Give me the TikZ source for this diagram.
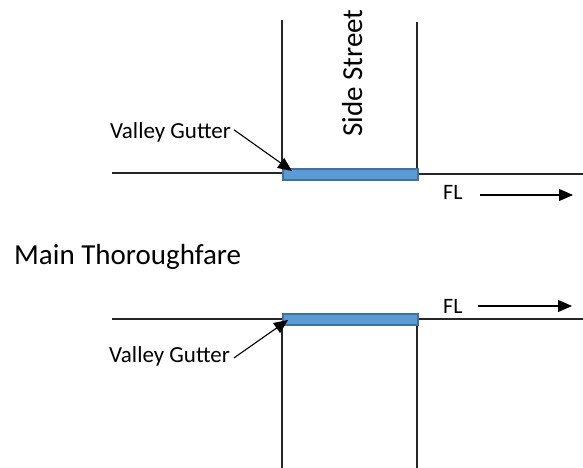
\documentclass[tikz,border=0pt]{standalone}
\usepackage{fontspec}
\setmainfont{Carlito}
\usetikzlibrary{arrows.meta}
\definecolor{gutterfill}{HTML}{5B9BD5}
\definecolor{gutteredge}{HTML}{41719C}
\tikzset{
  curb/.style={line width=1.2pt, draw=black!85},
  gutter/.style={fill=gutterfill, draw=gutteredge, line width=1.6pt},
  pointer/.style={line width=1.1pt, -{Triangle[length=14pt,width=12pt]}},
  label/.style={inner sep=0pt, anchor=base west},
}
\begin{document}
\begin{tikzpicture}[x=1pt, y=-1pt]
\useasboundingbox (0,0) rectangle (583,468);

% ---- side street meeting the through road (top) ----
\coordinate (tl0) at (112,173);
\coordinate (tl1) at (282,173);
\coordinate (tr0) at (417,174);
\coordinate (tr1) at (583,174);
\coordinate (tv0) at (282,20);
\coordinate (tv1) at (282,168);
\coordinate (tw0) at (417,22);
\draw[curb] (tl0) -- (tl1);
\draw[curb] (tv0) -- (tv1);
\draw[curb] (tw0) -- (tr0) -- (tr1);
\node[gutter, minimum width=135pt, minimum height=11pt, inner sep=0pt, anchor=north west] (tg) at (282,168) {};
\node[label, rotate=90, font=\fontsize{29}{29}\selectfont] (side) at (362,137) {Side Street};
\node[label, font=\fontsize{23}{23}\selectfont] (tvg) at (110,138) {Valley Gutter};
\coordinate (ttip) at (292,171);
\draw[pointer] (tvg.east) ++(3,-2) -- (ttip);
\node[label, font=\fontsize{22}{22}\selectfont] (tfl) at (443,199) {FL};
\coordinate (tflend) at (573,195);
\draw[pointer] (480,195) -- (tflend);

% ---- main road label ----
\node[label, font=\fontsize{29}{29}\selectfont] (main) at (14,264) {Main Thoroughfare};

% ---- through road meeting the side street (bottom) ----
\coordinate (bl0) at (112,319);
\coordinate (bl1) at (282,319);
\coordinate (br0) at (417,319);
\coordinate (br1) at (583,319);
\coordinate (bv0) at (282,324);
\coordinate (bv1) at (282,468);
\coordinate (bw1) at (417,468);
\draw[curb] (bl0) -- (bl1);
\draw[curb] (bv0) -- (bv1);
\draw[curb] (br1) -- (br0) -- (bw1);
\node[gutter, minimum width=135pt, minimum height=11pt, inner sep=0pt, anchor=north west] (bg) at (282,313) {};
\node[label, font=\fontsize{23}{23}\selectfont] (bvg) at (109,362) {Valley Gutter};
\coordinate (btip) at (288,320);
\draw[pointer] (bvg.east) ++(4,2) -- (btip);
\node[label, font=\fontsize{22}{22}\selectfont] (bfl) at (443,313) {FL};
\coordinate (bflend) at (572,306);
\draw[pointer] (478,306) -- (bflend);
\end{tikzpicture}
\end{document}
